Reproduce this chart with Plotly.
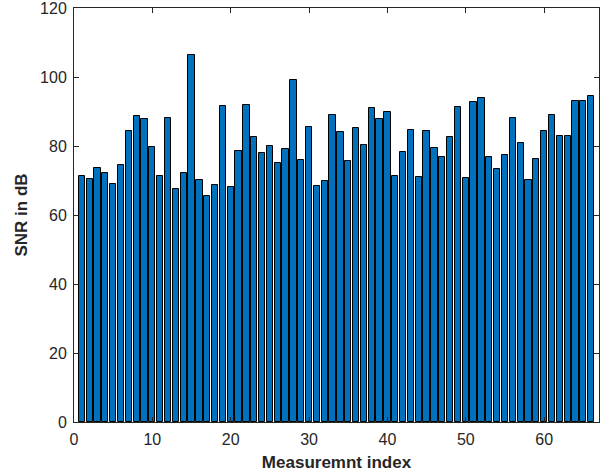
import plotly.graph_objects as go

# SNR per measurement (dB)
measurement_index = list(range(1, 67))
snr_db = [
    71.4, 70.4, 73.6, 72.2, 69.1, 74.5, 84.4, 88.8, 87.9, 79.8,
    71.2, 88.1, 67.4, 72.3, 106.5, 70.2, 65.4, 68.6, 91.6, 68.1,
    78.6, 91.9, 82.6, 78.0, 79.9, 75.2, 79.0, 99.2, 76.0, 85.5,
    68.3, 69.9, 88.9, 84.1, 75.6, 85.1, 80.4, 91.0, 87.9, 89.9,
    71.4, 78.2, 84.7, 71.0, 84.4, 79.4, 76.8, 82.6, 91.2, 70.8,
    92.7, 93.9, 76.9, 73.4, 77.3, 88.1, 80.9, 70.2, 76.1, 84.4,
    88.9, 82.8, 82.8, 93.0, 92.9, 94.4,
]
x_ticks = [0, 10, 20, 30, 40, 50, 60]
y_ticks = [0, 20, 40, 60, 80, 100, 120]

FONT = "Liberation Sans, Arial, Helvetica"
INK = "#262626"

fig = go.Figure(
    go.Bar(
        x=measurement_index,
        y=snr_db,
        width=0.8,
        marker=dict(color="#0072BD", line=dict(color="#000000", width=1)),
    )
)

axis_common = dict(
    automargin=False,
    showline=True,
    linecolor=INK,
    linewidth=1,
    mirror="ticks",
    ticks="inside",
    ticklen=5,
    tickcolor=INK,
    showgrid=False,
    zeroline=False,
    ticklabeloverflow="allow",
    tickfont=dict(family=FONT, size=16, color=INK),
)

fig.update_xaxes(
    range=[0, 67],
    tickvals=x_ticks,
    ticklabelstandoff=3,
    title=dict(text="<b>Measuremnt index</b>", font=dict(family=FONT, size=17, color=INK), standoff=8),
    **axis_common,
)
fig.update_yaxes(
    range=[0, 120],
    tickvals=y_ticks,
    ticklabelstandoff=3,
    title=dict(text="<b>SNR in dB</b>", font=dict(family=FONT, size=17, color=INK), standoff=8),
    **axis_common,
)

fig.update_layout(
    width=609,
    height=475,
    margin=dict(l=74, r=10, t=8, b=53),
    plot_bgcolor="white",
    paper_bgcolor="white",
    showlegend=False,
    bargap=0,
)

fig.write_html("out.html")
